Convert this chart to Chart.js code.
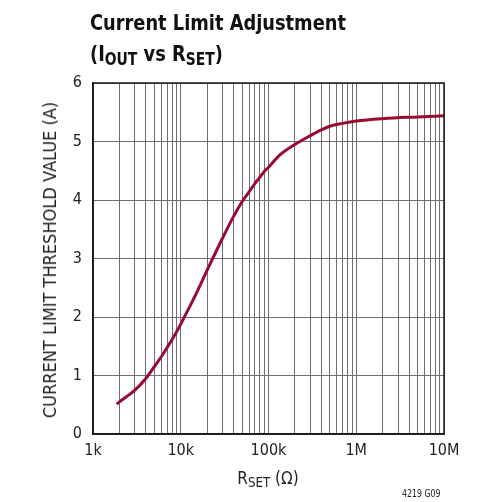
<!DOCTYPE html>
<html>
<head>
<meta charset="utf-8">
<script src="https://cdn.jsdelivr.net/npm/chart.js@4/dist/chart.umd.min.js"></script>
<style>
  body { margin: 0; background: #fff; }
  #wrap { position: relative; width: 477px; height: 502px; font-family: "DejaVu Sans Condensed", "Liberation Sans", Arial, sans-serif; }
  #title { position: absolute; left: 90px; top: 7px; font-weight: bold; font-size: 22px; line-height: 31px; color: #111; white-space: nowrap; transform: scaleX(0.9); transform-origin: left top; }
  #title sub, #xt sub { font-size: 0.78em; vertical-align: -0.25em; }
  #yt { position: absolute; left: 50px; top: 260px; transform: translate(-50%, -50%) rotate(-90deg) scaleX(1.06); white-space: nowrap; font-size: 17px; color: #222; }
  #xt { position: absolute; left: 268px; top: 468px; transform: translateX(-50%); white-space: nowrap; font-size: 17px; color: #222; }
  #code { position: absolute; left: 402px; top: 488px; font-size: 10px; color: #222; transform: scaleX(0.87); transform-origin: left top; }
  canvas { position: absolute; left: 0; top: 0; }
</style>
</head>
<body>
<div id="wrap">
  <canvas id="myChart" width="477" height="502"></canvas>
  <div id="title">Current Limit Adjustment<br>(I<sub>OUT</sub> vs R<sub>SET</sub>)</div>
  <div id="yt">CURRENT LIMIT THRESHOLD VALUE (A)</div>
  <div id="xt">R<sub>SET</sub> (Ω)</div>
  <div id="code">4219 G09</div>
</div>
<script>
const rset = [1.86e3, 2e3, 3e3, 4e3, 5e3, 6e3, 7e3, 8e3, 9e3, 10e3, 15e3, 20e3, 30e3, 40e3, 50e3, 60e3, 70e3, 80e3, 90e3, 100e3, 135e3, 200e3, 300e3, 400e3, 500e3, 700e3, 1e6, 2e6, 5e6, 10e6]
const iout = [0.51, 0.55, 0.75, 0.95, 1.15, 1.32, 1.48, 1.62, 1.75, 1.88, 2.4, 2.8, 3.35, 3.72, 3.97, 4.14, 4.28, 4.39, 4.49, 4.56, 4.77, 4.95, 5.1, 5.2, 5.26, 5.31, 5.35, 5.39, 5.42, 5.44]
const xTicks = [1e3, 1e4, 1e5, 1e6, 1e7]
const xTickLabels = ['1k', '10k', '100k', '1M', '10M']

var points = []
for (var i = 0; i < rset.length; i++) {
  points.push({x: rset[i], y: iout[i]})
}

// every 1..9 multiple gets a grid line
var gridTicks = []
for (var d = 0; d < xTicks.length - 1; d++) {
  for (var m = 1; m < 10; m++) gridTicks.push(xTicks[d] * m)
}
gridTicks.push(xTicks[xTicks.length - 1])

const font = "'DejaVu Sans Condensed', 'Liberation Sans', Arial, sans-serif"

// dark frame round the plot area
const frame = {
  id: 'frame',
  afterDatasetsDraw: function(chart) {
    var a = chart.chartArea, ctx = chart.ctx
    ctx.save()
    ctx.strokeStyle = '#1a1a1a'
    ctx.lineWidth = 1.5
    ctx.strokeRect(a.left, a.top, a.right - a.left, a.bottom - a.top)
    ctx.restore()
  }
}

new Chart(document.getElementById('myChart'), {
  type: 'line',
  data: {
    datasets: [{
      data: points,
      borderColor: '#9a0b32',
      borderWidth: 3,
      pointRadius: 0,
      cubicInterpolationMode: 'monotone'
    }]
  },
  options: {
    responsive: false,
    animation: false,
    layout: { padding: { left: 0, right: 33, top: 83, bottom: 0 } },
    plugins: { legend: { display: false }, tooltip: { enabled: false } },
    scales: {
      x: {
        type: 'logarithmic',
        min: 1e3,
        max: 1e7,
        afterBuildTicks: function(scale) {
          scale.ticks = gridTicks.map(function(v) { return {value: v} })
        },
        afterFit: function(scale) { scale.height = 68 },
        ticks: {
          autoSkip: false,
          maxRotation: 0,
          padding: 7,
          color: '#222',
          font: { family: font, size: 16 },
          callback: function(value) {
            var k = xTicks.indexOf(value)
            return k >= 0 ? xTickLabels[k] : ''
          }
        },
        grid: { color: '#6e6e6e', lineWidth: 1, drawTicks: false },
        border: { color: '#1a1a1a', width: 1.5 }
      },
      y: {
        min: 0,
        max: 6,
        afterFit: function(scale) { scale.width = 93 },
        ticks: {
          stepSize: 1,
          padding: 11,
          color: '#222',
          font: { family: font, size: 16 }
        },
        grid: { color: '#6e6e6e', lineWidth: 1, drawTicks: false },
        border: { color: '#1a1a1a', width: 1.5 }
      }
    }
  },
  plugins: [frame]
});
</script>
</body>
</html>
